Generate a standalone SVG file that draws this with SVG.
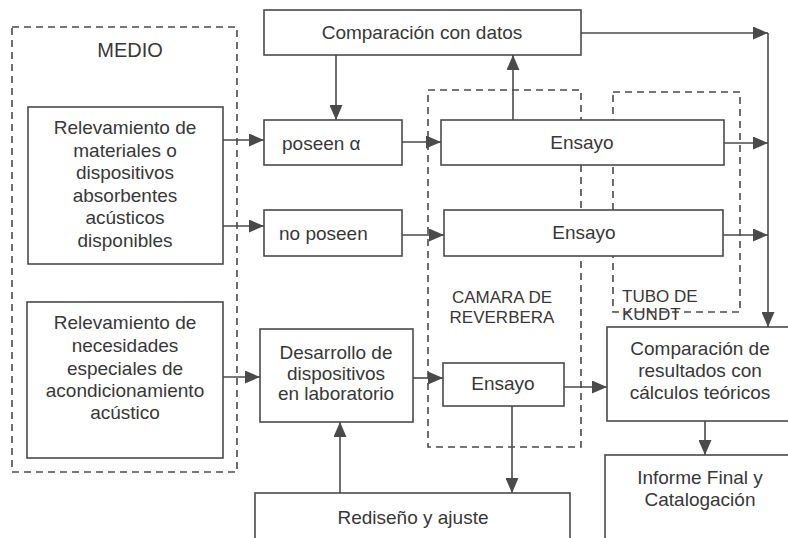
<svg xmlns="http://www.w3.org/2000/svg" width="788" height="538" viewBox="0 0 788 538">
<defs>
<marker id="ah" markerWidth="15" markerHeight="13" refX="15" refY="6.5" orient="auto" markerUnits="userSpaceOnUse">
<path d="M0,0 L15,6.5 L0,13 Z" fill="#4a4a4a"/>
</marker>
<style>
.box{fill:#fff;stroke:#4a4a4a;stroke-width:1.6}
.dash{fill:none;stroke:#4a4a4a;stroke-width:1.6;stroke-dasharray:7,5}
.ln{fill:none;stroke:#4a4a4a;stroke-width:1.6}
.arr{fill:none;stroke:#4a4a4a;stroke-width:1.6;marker-end:url(#ah)}
text{font-family:"Liberation Sans",Arial,sans-serif;font-size:19px;fill:#383838;text-anchor:middle}
.sm{font-size:17px}
.lg{font-size:20px}
</style>
</defs>
<rect width="788" height="538" fill="#fff"/>
<g id="groups">
<rect id="medio" class="dash" x="12" y="27" width="225" height="445"/>
<text class="lg" x="130" y="57">MEDIO</text>
<rect id="camara" class="dash" x="428" y="90" width="153" height="357"/>
<text class="sm" x="502" y="303">CAMARA DE</text>
<text class="sm" x="502" y="323">REVERBERA</text>
<rect id="tubo" class="dash" x="613" y="92" width="127" height="220"/>
<text class="sm" x="622" y="302" style="text-anchor:start">TUBO DE</text>
<text class="sm" x="622" y="320" style="text-anchor:start">KUNDT</text>
</g>
<g id="connectors">
<path class="arr" d="M223,140 H264"/>
<path class="arr" d="M223,226 H264"/>
<path class="arr" d="M336,55 V120"/>
<path class="arr" d="M402,142 H441"/>
<path class="arr" d="M402,235 H444"/>
<path class="arr" d="M513,120 V55"/>
<path class="arr" d="M581,33 H768"/>
<path class="ln" d="M768,33 V300"/>
<path class="arr" d="M768,300 V327"/>
<path class="arr" d="M724,143 H768"/>
<path class="arr" d="M723,235 H768"/>
<path class="arr" d="M223,377 H260"/>
<path class="arr" d="M413,378 H443"/>
<path class="arr" d="M564,387 H607"/>
<path class="arr" d="M512,406 V493"/>
<path class="arr" d="M340,493 V422"/>
<path class="arr" d="M705,421 V455"/>
</g>
<g id="n-relev1">
<rect class="box" x="28" y="107" width="195" height="157"/>
<text x="125" y="134">Relevamiento de</text>
<text x="125" y="157">materiales  o</text>
<text x="125" y="179">dispositivos</text>
<text x="125" y="202">absorbentes</text>
<text x="125" y="224">acústicos</text>
<text x="125" y="247">disponibles</text>
</g>
<g id="n-relev2">
<rect class="box" x="27" y="302" width="196" height="156"/>
<text x="125" y="329">Relevamiento de</text>
<text x="125" y="352">necesidades</text>
<text x="125" y="375">especiales de</text>
<text x="125" y="397">acondicionamiento</text>
<text x="125" y="419">acústico</text>
</g>
<g id="n-compdatos">
<rect class="box" x="264" y="10" width="317" height="45"/>
<text x="422" y="39">Comparación con datos</text>
</g>
<g id="n-poseen">
<rect class="box" x="264" y="120" width="138" height="45"/>
<text x="282" y="150" style="text-anchor:start">poseen α</text>
</g>
<g id="n-noposeen">
<rect class="box" x="264" y="210" width="138" height="46"/>
<text x="279" y="240" style="text-anchor:start">no poseen</text>
</g>
<g id="n-ensayo1">
<rect class="box" x="441" y="120" width="283" height="45"/>
<text x="582" y="149">Ensayo</text>
</g>
<g id="n-ensayo2">
<rect class="box" x="444" y="210" width="279" height="46"/>
<text x="584" y="239">Ensayo</text>
</g>
<g id="n-desarrollo">
<rect class="box" x="260" y="329" width="153" height="93"/>
<text x="336" y="359">Desarrollo de</text>
<text x="336" y="380">dispositivos</text>
<text x="336" y="400">en laboratorio</text>
</g>
<g id="n-ensayo3">
<rect class="box" x="443" y="363" width="121" height="43"/>
<text x="503" y="390">Ensayo</text>
</g>
<g id="n-compres">
<rect class="box" x="607" y="327" width="190" height="94"/>
<text x="700" y="355">Comparación de</text>
<text x="700" y="377">resultados con</text>
<text x="700" y="399">cálculos teóricos</text>
</g>
<g id="n-informe">
<rect class="box" x="605" y="455" width="195" height="100"/>
<text x="700" y="484">Informe Final y</text>
<text x="700" y="506">Catalogación</text>
</g>
<g id="n-rediseno">
<rect class="box" x="255" y="493" width="315" height="60"/>
<text x="413" y="524">Rediseño y ajuste</text>
</g>
</svg>
